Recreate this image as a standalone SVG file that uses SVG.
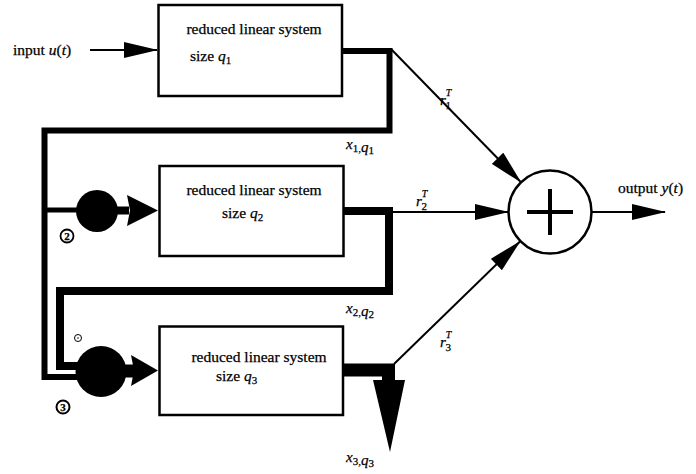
<svg xmlns="http://www.w3.org/2000/svg" width="696" height="474" viewBox="0 0 696 474">
<style>
text{font-family:"Liberation Serif","Times New Roman",serif;fill:#000;stroke:#000;stroke-width:0.25}
.t{font-size:15.5px}
.it{font-style:italic}
.box{fill:#fff;stroke:#000;stroke-width:2.5}
.thin{fill:none;stroke:#000;stroke-width:2}
.thick{fill:none;stroke:#000;stroke-linejoin:miter;stroke-linecap:butt}
.lbl{font-size:15px;font-style:italic}
.sub{font-size:11px;font-style:normal}
</style>
<defs>
<marker id="ah" markerUnits="userSpaceOnUse" markerWidth="34" markerHeight="16" refX="33" refY="8" orient="auto">
<path d="M0,0 L34,8 L0,16 z" fill="#000"/>
</marker>
</defs>
<rect width="696" height="474" fill="#fff"/>

<g id="connectors">
<line class="thin" x1="90" y1="50" x2="157" y2="50" marker-end="url(#ah)"/>
<path class="thick" stroke-width="6" d="M343,51 H389.5 V130.5 H44.5 V377 H88"/>
<path class="thick" stroke-width="8" d="M343,211 H389 V291 H60 V366 H88"/>
<line x1="46" y1="210" x2="80" y2="210" stroke="#000" stroke-width="5"/>
<line class="thin" x1="391" y1="49" x2="520.6" y2="181.9" marker-end="url(#ah)"/>
<line class="thin" x1="393" y1="212" x2="508" y2="212" marker-end="url(#ah)"/>
<line class="thin" x1="394" y1="364" x2="520" y2="241.5" marker-end="url(#ah)"/>
<line class="thin" x1="592" y1="212" x2="665" y2="212" marker-end="url(#ah)"/>
<rect x="343" y="363.5" width="52" height="13" fill="#000"/>
<rect x="382" y="370" width="13" height="12" fill="#000"/>
<polygon points="373,380 405,380 390,452" fill="#000"/>
</g>

<g id="input-label">
<text class="t" x="13" y="55">input <tspan class="it">u</tspan>(<tspan class="it">t</tspan>)</text>
</g>

<g id="box1">
<rect class="box" x="158.5" y="5" width="183.5" height="91"/>
<text class="t" x="254" y="34" text-anchor="middle">reduced linear system</text>
<text class="t" x="190" y="61">size <tspan class="it">q</tspan><tspan font-size="11" dy="3">1</tspan></text>
</g>

<g id="box2">
<rect class="box" x="159.5" y="166" width="184" height="90"/>
<text class="t" x="254" y="195" text-anchor="middle">reduced linear system</text>
<text class="t" x="222" y="218">size <tspan class="it">q</tspan><tspan font-size="11" dy="3">2</tspan></text>
</g>

<g id="box3">
<rect class="box" x="159.5" y="326.5" width="183.5" height="88.5"/>
<text class="t" x="259" y="362" text-anchor="middle">reduced linear system</text>
<text class="t" x="216" y="381">size <tspan class="it">q</tspan><tspan font-size="11" dy="3">3</tspan></text>
</g>

<g id="node2">
<circle cx="97" cy="211" r="21" fill="#000"/>
<rect x="114" y="206.5" width="15" height="8" fill="#000"/>
<polygon points="127,195 158,210.5 127,226 130,210.5" fill="#000"/>
<circle cx="67" cy="236" r="6.5" fill="none" stroke="#000" stroke-width="1.8"/>
<text x="67" y="240" font-size="11" font-weight="bold" text-anchor="middle">2</text>
</g>

<g id="node3">
<circle cx="101" cy="371.5" r="25.5" fill="#000"/>
<rect x="122" y="364.5" width="12" height="13" fill="#000"/>
<polygon points="131,355 158,370.5 131,386 134,370.5" fill="#000"/>
<circle cx="63" cy="407" r="6.5" fill="none" stroke="#000" stroke-width="2"/>
<text x="63" y="411" font-size="11" font-weight="bold" text-anchor="middle">3</text>
<circle cx="78" cy="338" r="3.5" fill="none" stroke="#000" stroke-width="1"/>
<circle cx="78" cy="338" r="0.8" fill="#000"/>
</g>

<g id="sum">
<circle cx="550" cy="212" r="41.5" fill="#fff" stroke="#000" stroke-width="2.5"/>
<line x1="527" y1="212" x2="573" y2="212" stroke="#000" stroke-width="4"/>
<line x1="550" y1="189" x2="550" y2="235" stroke="#000" stroke-width="4"/>
</g>

<g id="labels">
<text class="t" x="618" y="193">output <tspan class="it">y</tspan>(<tspan class="it">t</tspan>)</text>
<text class="lbl" x="440" y="105">r<tspan font-size="10" dx="0" dy="-9">T</tspan><tspan class="sub" dx="-6" dy="13">1</tspan></text>
<text class="lbl" x="416" y="206">r<tspan font-size="10" dx="0" dy="-9">T</tspan><tspan class="sub" dx="-6" dy="13">2</tspan></text>
<text class="lbl" x="440" y="347">r<tspan font-size="10" dx="0" dy="-9">T</tspan><tspan class="sub" dx="-6" dy="13">3</tspan></text>
<text class="lbl" x="346" y="149">x<tspan class="sub" dy="3">1,</tspan><tspan>q</tspan><tspan class="sub" font-size="10" dy="2">1</tspan></text>
<text class="lbl" x="346" y="313">x<tspan class="sub" dy="3">2,</tspan><tspan>q</tspan><tspan class="sub" font-size="10" dy="2">2</tspan></text>
<text class="lbl" x="346" y="462">x<tspan class="sub" dy="3">3,</tspan><tspan>q</tspan><tspan class="sub" font-size="10" dy="2">3</tspan></text>
</g>
</svg>
